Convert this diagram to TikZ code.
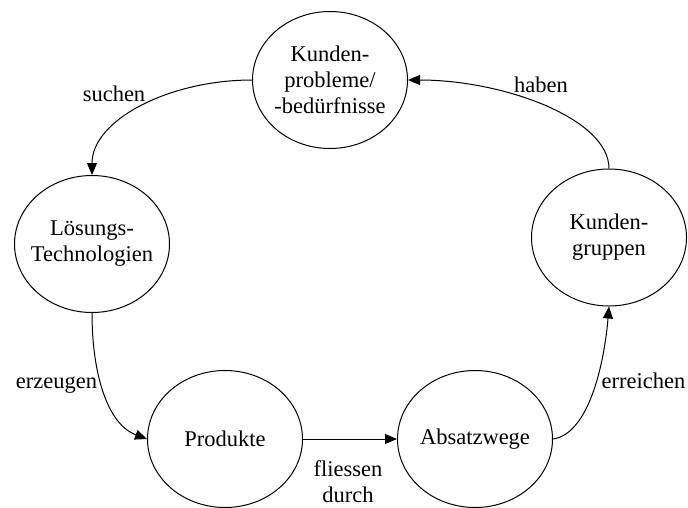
\documentclass[tikz,border=0pt]{standalone}
\usepackage{fontspec}
\setmainfont{Liberation Serif}
\usetikzlibrary{shapes.geometric,arrows.meta}
\begin{document}
\begin{tikzpicture}[x=1pt,y=-1pt,
  bubble/.style={ellipse,draw,line width=1pt,minimum width=155pt,minimum height=137pt,inner sep=0pt},
  caption/.style={font=\fontsize{22.5}{26}\selectfont,align=center,inner sep=0pt},
  flow/.style={line width=1pt,-{Triangle[length=12pt,width=10pt]}},
  edgelab/.style={font=\fontsize{22.5}{26}\selectfont,align=center,inner sep=0pt,anchor=base}]
\useasboundingbox (0,0) rectangle (688,507);

% the five stations of the cycle
\node[bubble] (kp) at (330,80) {};
\node[bubble] (lt) at (92,244) {};
\node[bubble] (pr) at (225,439) {};
\node[bubble] (aw) at (475,439) {};
\node[bubble] (kg) at (609,237.5) {};

\node[caption] (kptext) at (kp) {Kunden-\\probleme/\\-bedürfnisse};
\node[caption] (lttext) at (lt) {Lösungs-\\Technologien};
\node[caption] (prtext) at (pr) {Produkte};
\node[caption] (awtext) at (aw) {Absatzwege};
\node[caption] (kgtext) at (kg) {Kunden-\\gruppen};

% connectors
\draw[flow] (kp.west) .. controls +(-83,0) and +(0,-55) .. (lt.north);
\draw[flow] (lt.south) .. controls +(0,60) and +(-40,-15) .. (pr.west);
\draw[flow] (pr.east) -- (aw.west);
\draw[flow] (aw.east) .. controls +(35,-5) and +(-5,60) .. (kg.south);
\draw[flow] (kg.north) .. controls +(0,-50) and +(95,0) .. (kp.east);

% connector labels (base anchor sits on the last line)
\node[edgelab] (lsuchen) at (114,101) {suchen};
\node[edgelab] (lhaben) at (541,92) {haben};
\node[edgelab] (lerzeugen) at (56.5,388) {erzeugen};
\node[edgelab] (lerreichen) at (643.5,388) {erreichen};
\node[edgelab] (lfliessen) at (348,502) {fliessen\\durch};
\end{tikzpicture}
\end{document}
